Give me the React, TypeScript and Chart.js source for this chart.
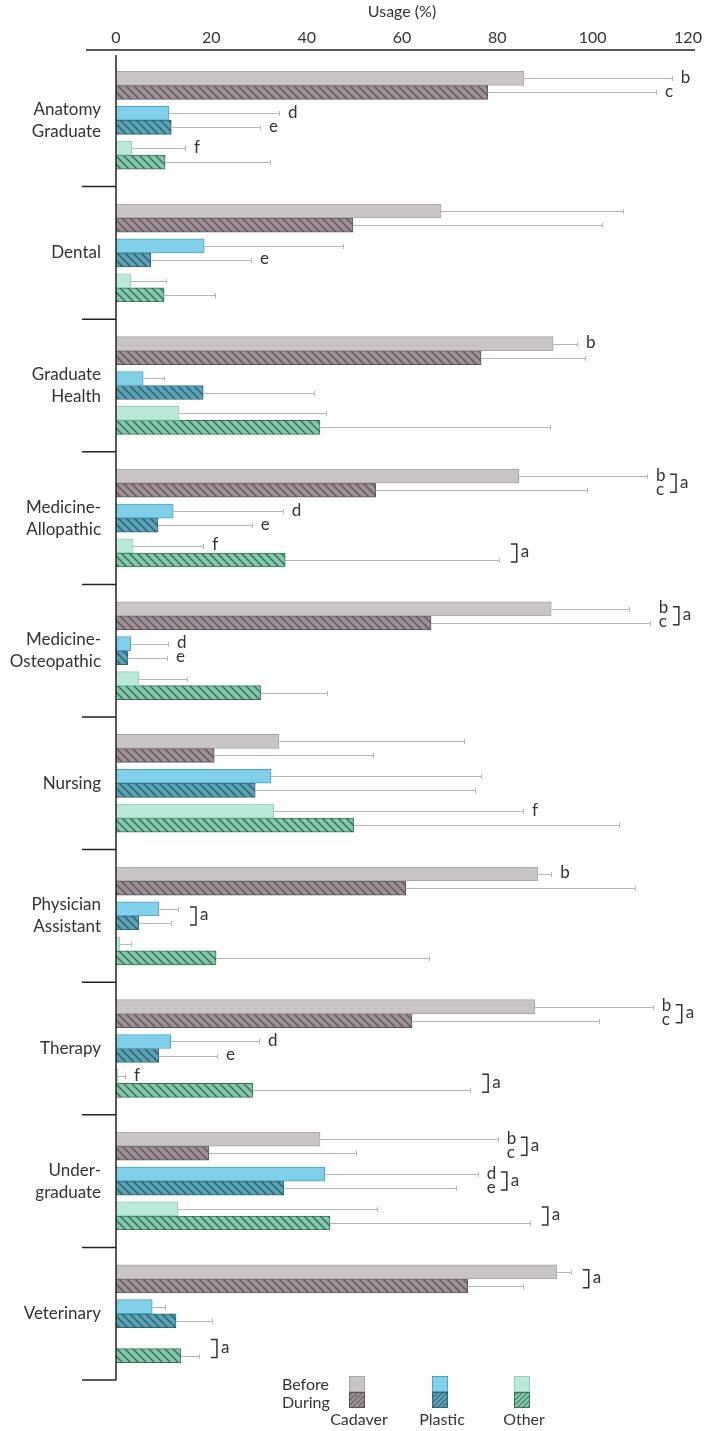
import React, { useEffect, useRef } from "react";
import { Chart, registerables } from "chart.js";
Chart.register(...registerables);

const categories: (string | string[])[] = [
  ["Anatomy", "Graduate"],
  "Dental",
  ["Graduate", "Health"],
  ["Medicine-", "Allopathic"],
  ["Medicine-", "Osteopathic"],
  "Nursing",
  ["Physician", "Assistant"],
  "Therapy",
  ["Under-", "graduate"],
  "Veterinary",
];

const cadaverBefore = [85.6, 68.2, 91.7, 84.5, 91.3, 34.2, 88.5, 87.9, 42.8, 92.5];
const cadaverBeforeSD = [31.0, 38.2, 5.0, 26.9, 16.3, 38.8, 2.8, 24.7, 37.3, 2.9];
const cadaverDuring = [78.0, 49.7, 76.6, 54.5, 66.1, 20.6, 60.8, 62.1, 19.5, 73.8];
const cadaverDuringSD = [35.3, 52.3, 21.8, 44.3, 45.9, 33.3, 48.1, 39.2, 30.8, 11.6];
const plasticBefore = [11.1, 18.5, 5.7, 12.0, 3.1, 32.5, 9.0, 11.5, 43.8, 7.6];
const plasticBeforeSD = [23.1, 29.1, 4.4, 23.0, 7.8, 44.1, 4.0, 18.5, 32.1, 2.7];
const plasticDuring = [11.6, 7.3, 18.3, 8.8, 2.5, 29.2, 4.8, 9.0, 35.2, 12.6];
const plasticDuringSD = [18.6, 21.0, 23.2, 19.7, 8.2, 46.1, 6.7, 12.2, 36.1, 7.5];
const otherBefore = [3.3, 3.1, 13.2, 3.6, 4.8, 33.1, 0.8, 0.4, 13.0, 0];
const otherBeforeSD = [11.2, 7.4, 30.9, 14.7, 10.1, 52.3, 2.3, 1.5, 41.8, 0];
const otherDuring = [10.3, 10.1, 42.8, 35.5, 30.4, 49.9, 21.0, 28.7, 44.9, 13.6];
const otherDuringSD = [22.0, 10.7, 48.2, 44.8, 13.9, 55.6, 44.7, 45.6, 41.9, 3.8];

const xMin = 0;
const xMax = 120;
const xStep = 20;
const axisTitle = "Usage (%)";

// [categoryIndex, seriesIndex, letter]
const letterMarks: [number, number, string][] = [
  [0, 0, "b"], [0, 1, "c"], [0, 2, "d"], [0, 3, "e"], [0, 4, "f"],
  [1, 3, "e"],
  [2, 0, "b"],
  [3, 0, "b"], [3, 1, "c"], [3, 2, "d"], [3, 3, "e"], [3, 4, "f"],
  [4, 0, "b"], [4, 1, "c"], [4, 2, "d"], [4, 3, "e"],
  [5, 4, "f"],
  [6, 0, "b"],
  [7, 0, "b"], [7, 1, "c"], [7, 2, "d"], [7, 3, "e"], [7, 4, "f"],
  [8, 0, "b"], [8, 1, "c"], [8, 2, "d"], [8, 3, "e"],
];

// [categoryIndex, pairIndex (0 cadaver,1 plastic,2 other), label]
const bracketMarks: [number, number, string][] = [
  [3, 0, "a"], [3, 2, "a"],
  [4, 0, "a"],
  [6, 1, "a"],
  [7, 0, "a"], [7, 2, "a"],
  [8, 0, "a"], [8, 1, "a"], [8, 2, "a"],
  [9, 0, "a"], [9, 2, "a"],
];

const groupNames = ["Cadaver", "Plastic", "Other"];
const phaseNames = ["Before", "During"];

const FONT = "Lato, 'Open Sans', sans-serif";
const TEXT = "#333333";

const seriesValues = [cadaverBefore, cadaverDuring, plasticBefore, plasticDuring, otherBefore, otherDuring];
const seriesSD = [cadaverBeforeSD, cadaverDuringSD, plasticBeforeSD, plasticDuringSD, otherBeforeSD, otherDuringSD];

const styles = [
  { fill: "#c9c5c7", border: "#a9a5a7", hatch: null as string | null },
  { fill: "#9e9097", border: "#5e5258", hatch: "#6a5c63" },
  { fill: "#80d0ea", border: "#4aa3c0", hatch: null },
  { fill: "#5ba3b9", border: "#2e6577", hatch: "#2f6a6e" },
  { fill: "#bbe9d8", border: "#8fd0b8", hatch: null },
  { fill: "#85c9ad", border: "#3a7059", hatch: "#3e7b62" },
];

const pairCenters = [0.237, 0.5, 0.763];
const halfBar = 0.053;
const BAR_PX = 14;

function slotOffset(s: number) {
  const p = Math.floor(s / 2);
  return pairCenters[p] + (s % 2 === 0 ? -halfBar : halfBar);
}

function makeHatch(bg: string, line: string, forward: boolean, size = 8, lw = 1.6) {
  const c = document.createElement("canvas");
  c.width = size;
  c.height = size;
  const g = c.getContext("2d")!;
  g.fillStyle = bg;
  g.fillRect(0, 0, size, size);
  g.strokeStyle = line;
  g.lineWidth = lw;
  g.beginPath();
  if (!forward) {
    g.moveTo(-2, -2); g.lineTo(size + 2, size + 2);
    g.moveTo(-2, size - 2); g.lineTo(2, size + 2);
    g.moveTo(size - 2, -2); g.lineTo(size + 2, 2);
  } else {
    g.moveTo(-2, size + 2); g.lineTo(size + 2, -2);
    g.moveTo(-2, 2); g.lineTo(2, -2);
    g.moveTo(size - 2, size + 2); g.lineTo(size + 2, size - 2);
  }
  g.stroke();
  const ctx = document.createElement("canvas").getContext("2d")!;
  return ctx.createPattern(c, "repeat")!;
}

export default function App() {
  const ref = useRef<HTMLCanvasElement>(null);

  useEffect(() => {
    if (!ref.current) return;
    const fills = styles.map((st) => (st.hatch ? makeHatch(st.fill, st.hatch, false) : st.fill));
    const legendFills = styles.map((st) => (st.hatch ? makeHatch(st.fill, st.hatch, true, 5, 1.1) : st.fill));

    const datasets = seriesValues.map((vals, s) => ({
      label: groupNames[Math.floor(s / 2)] + " " + phaseNames[s % 2],
      data: vals.map((v, i) => ({ x: v, y: i + slotOffset(s) })),
      backgroundColor: fills[s] as any,
      borderColor: styles[s].border,
      borderWidth: 1,
      barThickness: BAR_PX,
      grouped: false,
      yAxisID: "y2",
      xAxisID: "x",
    }));

    const annot = {
      id: "annot",
      afterDatasetsDraw(chart: any) {
        const ctx = chart.ctx as CanvasRenderingContext2D;
        const xs = chart.scales.x;
        const ys = chart.scales.y2;
        const endPx = (c: number, s: number) => xs.getPixelForValue(seriesValues[s][c] + seriesSD[s][c]);
        const yPx = (c: number, s: number) => ys.getPixelForValue(c + slotOffset(s));
        ctx.save();
        // error bars
        ctx.strokeStyle = "#b5b5b5";
        ctx.lineWidth = 1;
        for (let s = 0; s < 6; s++) {
          for (let c = 0; c < categories.length; c++) {
            if (seriesSD[s][c] <= 0) continue;
            const x1 = xs.getPixelForValue(seriesValues[s][c]);
            const x2 = endPx(c, s);
            const y = Math.round(yPx(c, s)) + 0.5;
            ctx.beginPath();
            ctx.moveTo(x1, y);
            ctx.lineTo(x2, y);
            ctx.moveTo(Math.round(x2) + 0.5, y - 2.5);
            ctx.lineTo(Math.round(x2) + 0.5, y + 2.5);
            ctx.stroke();
          }
        }
        const hasBracket = (c: number, p: number) => bracketMarks.some((b) => b[0] === c && b[1] === p);
        const pairLetters = (c: number, p: number) =>
          letterMarks.filter((m) => m[0] === c && Math.floor(m[1] / 2) === p).length;
        const stacked = (c: number, p: number) => hasBracket(c, p) && pairLetters(c, p) === 2;
        const pairEnd = (c: number, p: number) => Math.max(endPx(c, 2 * p), endPx(c, 2 * p + 1));
        ctx.fillStyle = TEXT;
        ctx.font = `17px ${FONT}`;
        ctx.textBaseline = "middle";
        ctx.textAlign = "left";
        for (const [c, s, l] of letterMarks) {
          const p = Math.floor(s / 2);
          const x = stacked(c, p) ? pairEnd(c, p) + 9 : endPx(c, s) + 9;
          ctx.fillText(l, x, yPx(c, s) - 1);
        }
        ctx.strokeStyle = "#333";
        ctx.lineWidth = 1.5;
        for (const [c, p, l] of bracketMarks) {
          const x0 = pairEnd(c, p) + (stacked(c, p) ? 23 : 12);
          const yMid = ys.getPixelForValue(c + pairCenters[p]);
          const top = yMid - 9;
          const bot = yMid + 9;
          ctx.beginPath();
          ctx.moveTo(x0, top);
          ctx.lineTo(x0 + 6, top);
          ctx.lineTo(x0 + 6, bot);
          ctx.lineTo(x0, bot);
          ctx.stroke();
          ctx.fillText(l, x0 + 10, yMid - 1);
        }
        ctx.restore();
      },
      afterDraw(chart: any) {
        const ctx = chart.ctx as CanvasRenderingContext2D;
        const a = chart.chartArea;
        const ys = chart.scales.y2;
        ctx.save();
        ctx.strokeStyle = "#222";
        ctx.lineWidth = 1.5;
        // top axis line
        ctx.beginPath();
        ctx.moveTo(a.left - 30, a.top - 4);
        ctx.lineTo(a.right + 7, a.top - 4);
        ctx.stroke();
        // left axis line
        ctx.beginPath();
        ctx.moveTo(a.left, a.top + 1);
        ctx.lineTo(a.left, a.bottom);
        ctx.stroke();
        // category boundary ticks
        for (let c = 1; c <= categories.length; c++) {
          const y = ys.getPixelForValue(c);
          ctx.beginPath();
          ctx.moveTo(a.left - 34, y);
          ctx.lineTo(a.left, y);
          ctx.stroke();
        }
        // legend
        const lx = [349, 432, 514];
        const ly = a.bottom - 4;
        ctx.font = `16px ${FONT}`;
        ctx.fillStyle = TEXT;
        ctx.textBaseline = "middle";
        ctx.textAlign = "left";
        ctx.fillText(phaseNames[0], 282, ly + 9);
        ctx.fillText(phaseNames[1], 282, ly + 27);
        ctx.lineWidth = 1;
        for (let p = 0; p < 3; p++) {
          for (let k = 0; k < 2; k++) {
            const s = 2 * p + k;
            ctx.fillStyle = legendFills[s] as any;
            ctx.fillRect(lx[p], ly + 16 * k, 16, 16);
            ctx.strokeStyle = styles[s].border;
            ctx.strokeRect(lx[p] + 0.5, ly + 16 * k + 0.5, 15, 15);
          }
          ctx.fillStyle = TEXT;
          ctx.textAlign = "center";
          ctx.fillText(groupNames[p], lx[p] + 10, ly + 44);
          ctx.textAlign = "left";
        }
        ctx.restore();
      },
    };

    const chart = new Chart(ref.current, {
      type: "bar",
      data: { labels: categories as any, datasets: datasets as any },
      options: {
        animation: false,
        responsive: false,
        maintainAspectRatio: false,
        devicePixelRatio: 1,
        indexAxis: "y",
        layout: { padding: { top: 0, left: 0, right: 21, bottom: 51 } },
        plugins: { legend: { display: false }, tooltip: { enabled: false } },
        scales: {
          x: {
            type: "linear",
            position: "top",
            min: xMin,
            max: xMax,
            ticks: { stepSize: xStep, color: TEXT, font: { family: FONT, size: 16 }, padding: 7 },
            grid: { display: false, drawTicks: false },
            border: { display: false },
            title: { display: true, text: axisTitle, color: TEXT, font: { family: FONT, size: 16 }, padding: { top: 2, bottom: 0 } },
            afterFit(s: any) { s.height = 54; },
          },
          y: {
            type: "category",
            position: "left",
            offset: true,
            grid: { display: false, drawTicks: false },
            border: { display: false },
            ticks: { color: TEXT, font: { family: FONT, size: 17, lineHeight: 1.3 }, padding: 15, autoSkip: false },
            afterFit(s: any) { s.width = 116; },
          },
          y2: {
            type: "linear",
            display: false,
            offset: false,
            min: 0,
            max: categories.length,
            reverse: true,
          },
        },
      } as any,
      plugins: [annot],
    });
    return () => chart.destroy();
  }, []);

  return (
    <div style={{ position: "absolute", left: 0, top: 0, width: 709, height: 1431, background: "#fff" }}>
      <canvas ref={ref} width={709} height={1431} style={{ display: "block" }} />
    </div>
  );
}
